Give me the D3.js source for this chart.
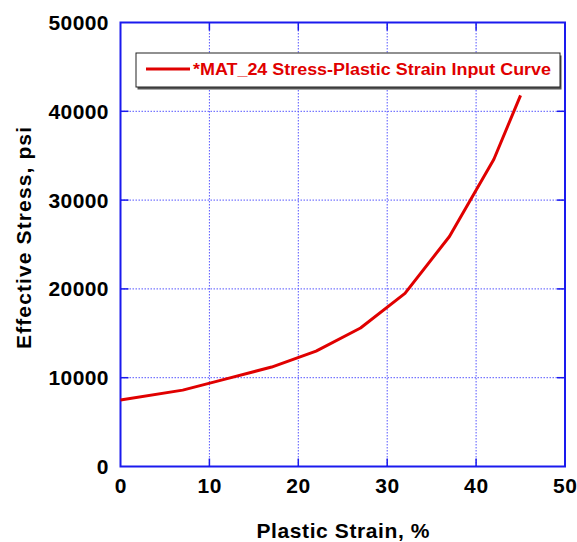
<!DOCTYPE html>
<html>
<head>
<meta charset="utf-8">
<script src="https://cdn.jsdelivr.net/npm/d3@7"></script>
<style>
  body { margin: 0; background: #fff; }
  svg { display: block; font-family: Arial, "Liberation Sans", sans-serif; }
  .tick-label { font-size: 21px; font-weight: bold; fill: #000; }
  .title { font-size: 21px; font-weight: bold; fill: #000; }
</style>
</head>
<body>
<svg id="chart" width="577" height="542"></svg>
<script>
// Data
const strain = [0, 7, 12, 17, 22, 27, 32, 37, 42, 45];
const stress = [7500, 8600, 9900, 11200, 13000, 15600, 19500, 25900, 34600, 41800];
const xTicks = [0, 10, 20, 30, 40, 50];
const yTicks = [0, 10000, 20000, 30000, 40000, 50000];
const seriesName = '*MAT_24 Stress-Plastic Strain Input Curve';

const margin = {left: 120.5, right: 12, top: 22.5, bottom: 75.5};
const width = 577, height = 542;

const svg = d3.select('#chart');

const x = d3.scaleLinear().domain([0, 50]).range([margin.left, width - margin.right]);
const y = d3.scaleLinear().domain([0, 50000]).range([height - margin.bottom, margin.top]);

const blue = '#1a1aee';

// dotted grid
const grid = svg.append('g');
grid.selectAll('.vgrid')
  .data(xTicks.slice(1, -1))
  .enter().append('line')
  .attr('x1', d => x(d)).attr('x2', d => x(d))
  .attr('y1', y(0)).attr('y2', y(50000))
  .attr('stroke', '#5555ff').attr('stroke-width', 1)
  .attr('stroke-dasharray', '1.5,1.5');
grid.selectAll('.hgrid')
  .data(yTicks.slice(1, -1))
  .enter().append('line')
  .attr('y1', d => y(d)).attr('y2', d => y(d))
  .attr('x1', x(0)).attr('x2', x(50))
  .attr('stroke', '#5555ff').attr('stroke-width', 1)
  .attr('stroke-dasharray', '1.5,1.5');

// inward tick marks on all four sides
const tickLen = 8;
const ticks = svg.append('g').attr('stroke', blue).attr('stroke-width', 1.5);
xTicks.slice(1, -1).forEach(d => {
  ticks.append('line').attr('x1', x(d)).attr('x2', x(d)).attr('y1', y(0)).attr('y2', y(0) - tickLen);
  ticks.append('line').attr('x1', x(d)).attr('x2', x(d)).attr('y1', y(50000)).attr('y2', y(50000) + tickLen);
});
yTicks.slice(1, -1).forEach(d => {
  ticks.append('line').attr('y1', y(d)).attr('y2', y(d)).attr('x1', x(0)).attr('x2', x(0) + tickLen);
  ticks.append('line').attr('y1', y(d)).attr('y2', y(d)).attr('x1', x(50)).attr('x2', x(50) - tickLen);
});

// frame
svg.append('rect')
  .attr('x', x(0)).attr('y', y(50000))
  .attr('width', x(50) - x(0)).attr('height', y(0) - y(50000))
  .attr('fill', 'none').attr('stroke', blue).attr('stroke-width', 2);

// tick labels
svg.selectAll('.xl')
  .data(xTicks)
  .enter().append('text')
  .attr('class', 'tick-label')
  .attr('x', d => x(d)).attr('y', y(0) + 26.5)
  .attr('text-anchor', 'middle')
  .attr('textLength', d => String(d).length * 12)
  .text(d => d);
svg.selectAll('.yl')
  .data(yTicks)
  .enter().append('text')
  .attr('class', 'tick-label')
  .attr('x', x(0) - 12).attr('y', d => y(d) + 7.5)
  .attr('text-anchor', 'end')
  .attr('textLength', d => String(d).length * 12)
  .text(d => d);

// axis titles
svg.append('text')
  .attr('class', 'title')
  .attr('x', 343).attr('y', 537.5)
  .attr('text-anchor', 'middle')
  .attr('textLength', 173)
  .text('Plastic Strain, %');
svg.append('text')
  .attr('class', 'title')
  .attr('transform', 'translate(30.5,238) rotate(-90)')
  .attr('text-anchor', 'middle')
  .attr('textLength', 222)
  .text('Effective Stress, psi');

// curve
const line = d3.line()
  .x((d, i) => x(strain[i]))
  .y(d => y(d));
svg.append('path')
  .datum(stress)
  .attr('d', line)
  .attr('fill', 'none')
  .attr('stroke', '#e00000')
  .attr('stroke-width', 3)
  .attr('stroke-linejoin', 'round');

// legend
const legend = svg.append('g');
legend.append('rect')
  .attr('x', 137.5).attr('y', 55.5).attr('width', 424).attr('height', 34)
  .attr('fill', '#555');
legend.append('rect')
  .attr('x', 136).attr('y', 53).attr('width', 424).attr('height', 34)
  .attr('fill', '#fff').attr('stroke', '#222').attr('stroke-width', 1);
legend.append('line')
  .attr('x1', 146).attr('x2', 190).attr('y1', 69).attr('y2', 69)
  .attr('stroke', '#e00000').attr('stroke-width', 3);
legend.append('text')
  .attr('x', 193).attr('y', 75)
  .attr('fill', '#e00000')
  .attr('font-size', 16).attr('font-weight', 'bold')
  .attr('textLength', 358).attr('lengthAdjust', 'spacingAndGlyphs')
  .text(seriesName);
</script>
</body>
</html>
